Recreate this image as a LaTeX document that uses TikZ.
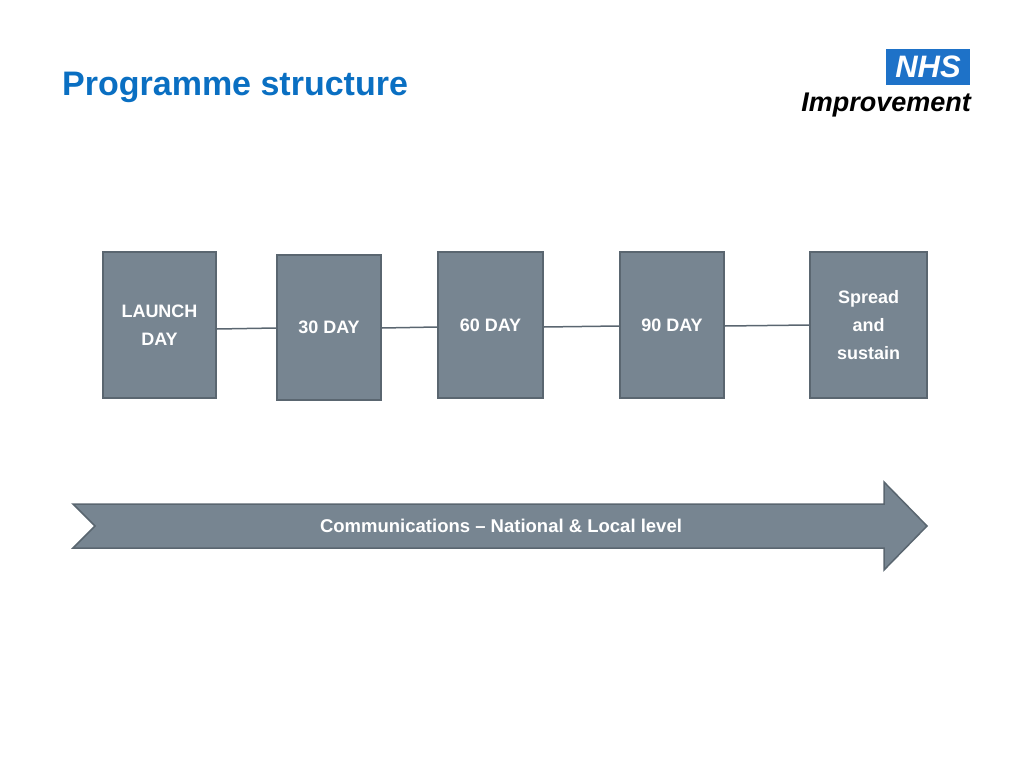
\documentclass[tikz,border=0pt]{standalone}
\usepackage{fontspec}
\setmainfont{Liberation Sans}
\usetikzlibrary{positioning}
\definecolor{boxfill}{HTML}{778591}
\definecolor{boxline}{HTML}{5A6670}
\definecolor{titleblue}{HTML}{0A6FC2}
\definecolor{nhsblue}{HTML}{1E72C8}
\tikzset{
  stagebox/.style={draw=boxline, line width=1.5pt, fill=boxfill, text=white,
    font=\bfseries\fontsize{18}{28}\selectfont, align=center, inner sep=0pt},
  link/.style={draw=boxline, line width=1.5pt}
}
\begin{document}
\begin{tikzpicture}[x=1pt,y=-1pt]
	\useasboundingbox (0,0) rectangle (1024,768);

	% title
	\node[anchor=west, inner sep=0pt, text=titleblue, font=\bfseries\fontsize{34}{40}\selectfont] (title) at (62,87) {Programme structure};

	% logo
	\node[fill=nhsblue, text=white, font=\bfseries\itshape\fontsize{31}{31}\selectfont, minimum width=84pt, minimum height=35pt, inner sep=0pt] (nhs) at (928,67) {NHS};
	\node[anchor=east, inner sep=0pt, font=\bfseries\itshape\fontsize{27}{27}\selectfont] (improve) at (971,105) {Improvement};

	% stages
	\node[stagebox, minimum width=113pt, minimum height=146pt] (launch) at (159.5,325) {LAUNCH\\DAY};
	\node[stagebox, minimum width=104pt, minimum height=145pt] (d30) at (329,327.5) {30 DAY};
	\node[stagebox, minimum width=105pt, minimum height=146pt] (d60) at (490.5,325) {60 DAY};
	\node[stagebox, minimum width=104pt, minimum height=146pt] (d90) at (672,325) {90 DAY};
	\node[stagebox, minimum width=117pt, minimum height=146pt] (spread) at (868.5,325) {Spread\\and\\sustain};

	% links
	\draw[link] (launch.east |- 0,329) -- (d30.west |- 0,328);
	\draw[link] (d30.east |- 0,328) -- (d60.west |- 0,327);
	\draw[link] (d60.east |- 0,327) -- (d90.west |- 0,326);
	\draw[link] (d90.east |- 0,326) -- (spread.west |- 0,325);

	% communications arrow
	\draw[draw=boxline, line width=1.5pt, fill=boxfill]
	(73,504) -- (884,504) -- (884,482) -- (927,526) -- (884,570) -- (884,548) -- (73,548) -- (95,526) -- cycle;
	\node[text=white, font=\bfseries\fontsize{18.5}{22}\selectfont] (comms) at (501,526) {Communications -- National \& Local level};

\end{tikzpicture}
\end{document}
